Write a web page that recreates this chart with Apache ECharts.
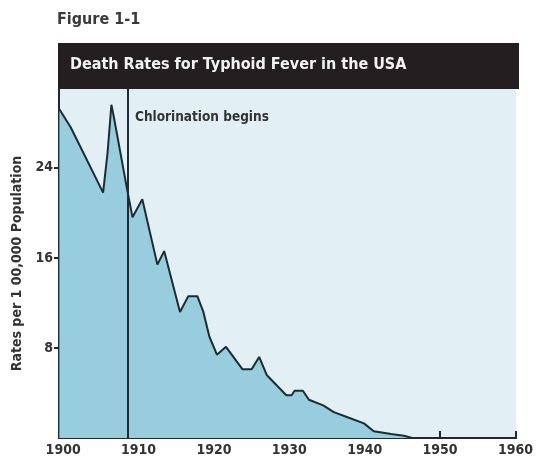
<!DOCTYPE html>
<html>
<head>
<meta charset="utf-8">
<script src="https://cdn.jsdelivr.net/npm/echarts@6/dist/echarts.min.js"></script>
<style>
  html, body { margin: 0; padding: 0; background: #fff; }
  #container { width: 536px; height: 459px; }
</style>
</head>
<body>
<div id="container"></div>
<script>
  var dom = document.getElementById('container');
  var myChart = echarts.init(dom, null, {
    renderer: 'canvas',
    useDirtyRect: false
  });

  var FONT = '"Liberation Sans Narrow", "DejaVu Sans Condensed", sans-serif';

  // year (some mid-year points) and death rate per 100,000
  var years = [1899.5, 1901, 1905.3, 1905.9, 1906.4, 1906.7, 1908.4, 1908.8, 1909.2, 1910.5,
    1912.5, 1913.4, 1915.5, 1916.6, 1917.8, 1918.6, 1919.4, 1920.4, 1921.6, 1923.8,
    1925.0, 1926.0, 1927.0, 1929.6, 1930.3, 1930.7, 1931.8, 1932.6, 1934.5, 1935.9,
    1937.9, 1939.9, 1941.2, 1943.5, 1945.2, 1946.3];
  var rates = [29.2, 27.6, 21.8, 25.4, 29.6, 28.6, 22.4, 21.0, 19.6, 21.2,
    15.4, 16.6, 11.2, 12.6, 12.6, 11.2, 9.0, 7.4, 8.1, 6.1,
    6.1, 7.2, 5.6, 3.8, 3.8, 4.2, 4.2, 3.4, 2.9, 2.3,
    1.8, 1.3, 0.6, 0.35, 0.2, 0];
  var xTicks = [1900, 1910, 1920, 1930, 1940, 1950, 1960];
  var xTickMarks = [1910, 1920, 1930, 1940, 1950, 1960];
  var yTicks = [8, 16, 24];
  var chlorinationYear = 1908.55;

  var seriesData = years.map(function (y, i) { return [y, rates[i]]; });

  var option = {
    animation: false,
    grid: {
      left: 59,
      right: 17,
      top: 89,
      bottom: 21,
      show: true,
      backgroundColor: '#e2f0f6',
      borderWidth: 0
    },
    graphic: [
      {
        type: 'text',
        left: 57,
        top: 12,
        style: {
          text: 'Figure 1-1',
          font: 'bold 16px ' + FONT,
          fill: '#3a3a3a'
        }
      },
      {
        type: 'rect',
        shape: { x: 58, y: 43, width: 461, height: 46 },
        style: { fill: '#231f20' }
      },
      {
        type: 'text',
        left: 70,
        top: 57,
        style: {
          text: 'Death Rates for Typhoid Fever in the USA',
          font: 'bold 16px ' + FONT,
          fill: '#f2f2f2'
        }
      },
      {
        type: 'text',
        left: 135,
        top: 110,
        z: 10,
        style: {
          text: 'Chlorination begins',
          font: 'bold 13.5px ' + FONT,
          fill: '#333'
        }
      }
    ],
    xAxis: {
      type: 'value',
      min: 1899.45,
      max: 1960.1,
      splitLine: { show: false },
      axisLine: { lineStyle: { color: '#1f2a30', width: 2 } },
      axisTick: {
        inside: true,
        length: 7,
        lineStyle: { color: '#1f2a30', width: 2 },
        customValues: xTickMarks
      },
      axisLabel: {
        customValues: xTicks,
        formatter: function (v) { return String(v); },
        color: '#333',
        fontFamily: FONT,
        fontWeight: 'bold',
        fontSize: 14,
        margin: 5
      }
    },
    yAxis: {
      type: 'value',
      min: 0,
      max: 31,
      name: 'Rates per 1 00,000 Population',
      nameLocation: 'middle',
      nameGap: 34,
      nameTextStyle: {
        color: '#333',
        fontFamily: FONT,
        fontWeight: 'bold',
        fontSize: 14
      },
      splitLine: { show: false },
      axisLine: { show: true, lineStyle: { color: '#1f2a30', width: 2 } },
      axisTick: {
        length: 5,
        lineStyle: { color: '#1f2a30', width: 2 },
        customValues: yTicks
      },
      axisLabel: {
        customValues: yTicks,
        color: '#333',
        fontFamily: FONT,
        fontWeight: 'bold',
        fontSize: 14,
        margin: 6
      }
    },
    series: [
      {
        type: 'line',
        data: seriesData,
        symbol: 'none',
        lineStyle: { color: '#1d2b33', width: 2 },
        areaStyle: { color: '#98cddd', opacity: 1 },
        markLine: {
          silent: true,
          symbol: 'none',
          label: { show: false },
          lineStyle: { color: '#1d2b33', width: 2, type: 'solid' },
          data: [{ xAxis: chlorinationYear }]
        }
      }
    ]
  };

  myChart.setOption(option);
  window.addEventListener('resize', myChart.resize);
</script>
</body>
</html>
